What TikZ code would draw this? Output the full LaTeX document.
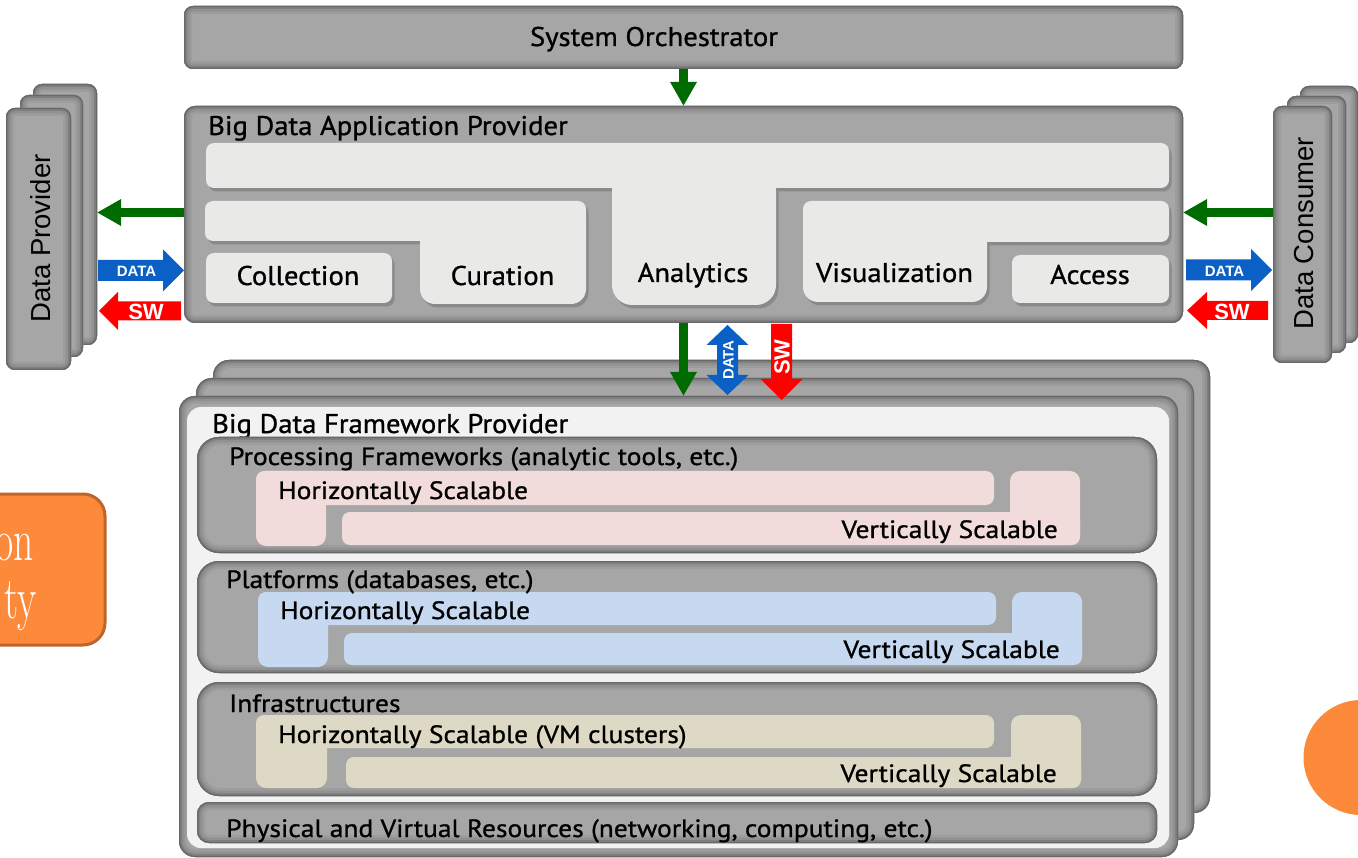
\documentclass[tikz,border=0pt]{standalone}
\usepackage{fontspec}
\newfontfamily\ptsA[FakeStretch=1.06,FakeBold=1.0]{PT Sans}
\newfontfamily\ptsB[FakeStretch=1.10,FakeBold=1.0]{PT Sans}
\newfontfamily\ars{Liberation Sans}
\usetikzlibrary{arrows.meta}
\definecolor{bvfill}{HTML}{A6A6A6}
\definecolor{bvA}{HTML}{9D9D9D}
\definecolor{bvB}{HTML}{919191}
\definecolor{bvC}{HTML}{808080}
\definecolor{bvD}{HTML}{686868}
\definecolor{lightfill}{HTML}{E9E9E7}
\definecolor{shadowc}{HTML}{8A8A8A}
\definecolor{framefill}{HTML}{F2F2F2}
\definecolor{pinkfill}{HTML}{F2DCDB}
\definecolor{bluefill}{HTML}{C6D9F1}
\definecolor{tanfill}{HTML}{DDD9C4}
\definecolor{arrgreen}{HTML}{006B00}
\definecolor{arrblue}{HTML}{0B60C6}
\definecolor{arrred}{HTML}{FF0000}
\definecolor{orfill}{HTML}{FD8A3B}
\definecolor{ordraw}{HTML}{C0652A}
\tikzset{
  bevel/.style={rectangle, rounded corners=#1, fill=bvfill, inner sep=0pt, outer sep=0pt, anchor=north west,
    path picture={\foreach \w/\c in {16/bvA,11/bvB,6/bvC,2.5/bvD}{\draw[line width=\w pt,color=\c,rounded corners=#1] (path picture bounding box.south west) rectangle (path picture bounding box.north east);}}},
  lbl/.style={inner sep=0pt, font=\ptsA\fontsize{27}{30}\selectfont},
  sublbl/.style={inner sep=0pt, font=\ptsB\fontsize{25}{28}\selectfont},
  rotlbl/.style={inner sep=0pt, rotate=90, font=\ars\fontsize{27.5}{30}\selectfont},
  arrlbl/.style={inner sep=0pt, text=white, font=\ars\bfseries\fontsize{#1}{#1}\selectfont},
  garrow/.style={draw=arrgreen, line width=8.5pt, -{Triangle[width=25pt,length=24pt]}},
  ortxt/.style={overlay, anchor=base east, inner sep=0pt, text=white, font=\fontsize{60}{60}\selectfont},
}
\newcommand\gbox[6]{\node[bevel=#6, minimum width=#4-#2, minimum height=#5-#3] (#1) at (#2,#3) {};}
\begin{document}
\begin{tikzpicture}[x=1pt,y=-1pt]
\useasboundingbox (0,0) rectangle (1358,858);
\fill[white] (0,0) rectangle (1358,858);
% orange partial box and circle
\begin{scope}
\clip (0,0) rectangle (1358,858);
\draw[overlay, ordraw, fill=orfill, line width=3pt, rounded corners=22pt] (-40,494) rectangle (105,645);
\node[ortxt] (orA) at (34,560) {\scalebox{0.66}[1]{on}};
\node[ortxt] (orB) at (37,618) {\scalebox{0.66}[1]{ty}};
\fill[overlay, orfill] (1361,757.5) circle (57.5);
\end{scope}
% System orchestrator
\gbox{so}{184}{6}{1183}{69}{9pt}
\node[lbl, anchor=base] (sotxt) at (654,46) {System Orchestrator};
% Data provider stack
\gbox{dpback}{33}{84}{97}{345}{9pt}
\gbox{dpmid}{20}{95}{83}{357}{9pt}
\gbox{dpfront}{6}{108}{71}{370}{9pt}
\node[rotlbl] (dptxt) at (40.5,238.5) {Data Provider};
% Data consumer stack
\gbox{dcback}{1300}{86}{1358}{343}{9pt}
\gbox{dcmid}{1287}{96}{1346}{353}{9pt}
\gbox{dcfront}{1273}{106}{1332}{363}{9pt}
\node[rotlbl] (dctxt) at (1304,233.5) {Data Consumer};
% BDAP
\gbox{bdap}{184}{106}{1183}{323}{11pt}
\node[lbl, anchor=base west] (bdaptxt) at (208,135) {Big Data Application Provider};
% shadows of light shapes
\begin{scope}[shift={(2.5,3.5)}, fill=shadowc]
  \fill[rounded corners=8pt] (206,143) rectangle (1169,188);
  \fill[rounded corners=20pt] (612,170) rectangle (776,305);
  \fill[rounded corners=8pt] (205,201) rectangle (586,241);
  \fill[rounded corners=15pt] (420,215) rectangle (586,304);
  \fill[rounded corners=8pt] (206,253) rectangle (392,303);
  \fill[rounded corners=8pt] (803,201) rectangle (1169,242);
  \fill[rounded corners=15pt] (803,215) rectangle (987,302);
  \fill[rounded corners=8pt] (1012,255) rectangle (1169,303);
\end{scope}
\begin{scope}[fill=lightfill]
  \fill[rounded corners=8pt] (206,143) rectangle (1169,188);
  \fill[rounded corners=20pt] (612,170) rectangle (776,305);
  \fill[rounded corners=8pt] (205,201) rectangle (586,241);
  \fill[rounded corners=15pt] (420,215) rectangle (586,304);
  \fill[rounded corners=8pt] (206,253) rectangle (392,303);
  \fill[rounded corners=8pt] (803,201) rectangle (1169,242);
  \fill[rounded corners=15pt] (803,215) rectangle (987,302);
  \fill[rounded corners=8pt] (1012,255) rectangle (1169,303);
\end{scope}
\node[lbl, anchor=base] (coll) at (298,285) {Collection};
\node[lbl, anchor=base] (cur) at (502.5,285) {Curation};
\node[lbl, anchor=base] (ana) at (693,282) {Analytics};
\node[lbl, anchor=base] (vis) at (894.5,282) {Visualization};
\node[lbl, anchor=base] (acc) at (1090,284) {Access};
% BDFP stack
\gbox{fpback}{213}{360}{1210}{813}{16pt}
\gbox{fpmid}{196}{378}{1194}{840}{16pt}
\gbox{fpfront}{179}{396}{1178}{857}{16pt}
\fill[framefill, rounded corners=14pt] (187,407) rectangle (1169,848);
\node[lbl, anchor=base west] (fptxt) at (212,433) {Big Data Framework Provider};
% layers
\gbox{proc}{197}{437}{1157}{553}{22pt}
\gbox{plat}{197}{561}{1157}{673}{22pt}
\gbox{infra}{197}{682}{1157}{796}{22pt}
\gbox{phys}{197}{802}{1157}{843}{12pt}
% pink
\begin{scope}[fill=pinkfill]
  \fill[rounded corners=8pt] (256,471) rectangle (994,505);
  \fill[rounded corners=10pt] (256,471) rectangle (326,546);
  \fill[rounded corners=8pt] (342,512) rectangle (1080,545);
  \fill[rounded corners=10pt] (1010,471) rectangle (1080,545);
\end{scope}
\begin{scope}[fill=bluefill]
  \fill[rounded corners=8pt] (258,592) rectangle (996,625);
  \fill[rounded corners=10pt] (258,592) rectangle (328,667);
  \fill[rounded corners=8pt] (344,633) rectangle (1082,665);
  \fill[rounded corners=10pt] (1012,592) rectangle (1082,665);
\end{scope}
\begin{scope}[fill=tanfill]
  \fill[rounded corners=8pt] (256,715) rectangle (994,748);
  \fill[rounded corners=10pt] (256,715) rectangle (327,788);
  \fill[rounded corners=8pt] (346,757) rectangle (1081,788);
  \fill[rounded corners=10pt] (1011,715) rectangle (1081,788);
\end{scope}
\node[sublbl, anchor=base west] (proctxt) at (229,465) {Processing Frameworks (analytic tools, etc.)};
\node[sublbl, anchor=base west] (prochs) at (278,499) {Horizontally Scalable};
\node[sublbl, anchor=base east] (procvs) at (1058,538) {Vertically Scalable};
\node[sublbl, anchor=base west] (plattxt) at (226,588) {Platforms (databases, etc.)};
\node[sublbl, anchor=base west] (plaths) at (280,619) {Horizontally Scalable};
\node[sublbl, anchor=base east] (platvs) at (1060,658) {Vertically Scalable};
\node[sublbl, anchor=base west] (inftxt) at (229,712) {Infrastructures};
\node[sublbl, anchor=base west] (infhs) at (278,743) {Horizontally Scalable (VM clusters)};
\node[sublbl, anchor=base east] (infvs) at (1057,782) {Vertically Scalable};
\node[sublbl, anchor=base west] (phystxt) at (226,837) {Physical and Virtual Resources (networking, computing, etc.)};
% green arrows
\draw[garrow] (so.south) -- (bdap.north);
\draw[garrow] ([yshift=2pt]bdap.west) -- ([yshift=2pt]dpback.east |- bdap.west);
\draw[garrow] ([yshift=2pt]dcfront.west |- bdap.east) -- ([yshift=2pt]bdap.east);
\draw[garrow] (bdap.south) -- (bdap.south |- fpfront.north);
% block arrows left
\fill[arrblue] (98,260) -- (163,260) -- (163,249.5) -- (184,270.5) -- (163,291.5) -- (163,281) -- (98,281) -- cycle;
\node[arrlbl=15] (ldata) at (136.5,271) {DATA};
\fill[arrred] (181,301.5) -- (118,301.5) -- (118,292) -- (99,311) -- (118,330) -- (118,320.5) -- (181,320.5) -- cycle;
\node[arrlbl=22] (lsw) at (146,312) {SW};
% block arrows right
\fill[arrblue] (1186,259.5) -- (1251,259.5) -- (1251,249) -- (1272,270) -- (1251,291) -- (1251,280.5) -- (1186,280.5) -- cycle;
\node[arrlbl=15] (rdata) at (1224.5,271) {DATA};
\fill[arrred] (1268,301) -- (1207,301) -- (1207,292) -- (1187,310.5) -- (1207,329) -- (1207,320) -- (1268,320) -- cycle;
\node[arrlbl=22] (rsw) at (1232,312) {SW};
% vertical block arrows
\fill[arrblue] (727.5,325) -- (748.5,345) -- (738,345) -- (738,375) -- (748.5,375) -- (727.5,395) -- (706.5,375) -- (717,375) -- (717,345) -- (706.5,345) -- cycle;
\node[arrlbl=15, rotate=90] (mdata) at (728.5,360) {DATA};
\fill[arrred] (771,324) -- (792,324) -- (792,379) -- (802.5,379) -- (781.5,400) -- (760.5,379) -- (771,379) -- cycle;
\node[arrlbl=22, rotate=90] (msw) at (782,357) {SW};
\end{tikzpicture}
\end{document}
